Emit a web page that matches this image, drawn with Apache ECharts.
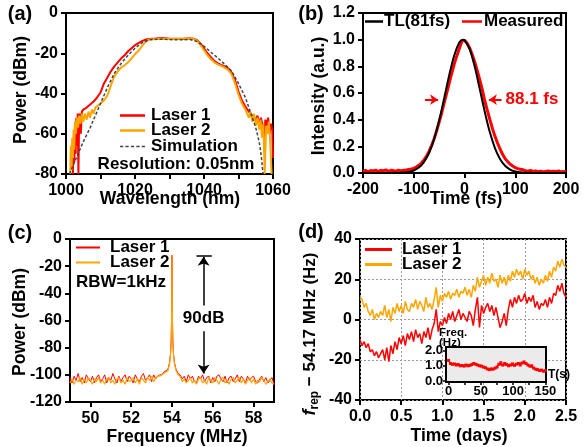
<!DOCTYPE html>
<html>
<head>
<meta charset="utf-8">
<script src="https://cdn.jsdelivr.net/npm/echarts@6/dist/echarts.min.js"></script>
<style>
  html, body { margin: 0; padding: 0; background: #fff; }
  #main { width: 584px; height: 447px; }
</style>
</head>
<body>
<div id="main"></div>
<script>
// (a) optical spectra, [wavelength nm, power dBm]
const laser1Spec = [[1002.0,-80],[1002.2,-62],[1002.4,-74],[1002.6,-56],[1002.8,-70],[1003.0,-52],[1003.2,-66],[1003.4,-50],[1003.6,-80],[1003.8,-54],[1004.0,-50],[1004.3,-60],[1004.6,-49],[1005,-48],[1006,-47],[1007,-45.5],[1008,-44],[1009,-42],[1010,-39.5],[1011,-35],[1012,-32],[1013,-29],[1014,-26.5],[1015,-24.5],[1016,-22.5],[1017,-21],[1018,-19],[1019,-17.5],[1020,-16],[1021,-15],[1022,-14],[1023,-13.3],[1024,-12.9],[1026,-12.7],[1028,-12.4],[1030,-12.8],[1032,-12.8],[1034,-12.9],[1036,-12.6],[1037,-12.8],[1038,-13.5],[1039,-15.2],[1040,-17.5],[1041,-20],[1042,-22],[1043,-23.8],[1044,-25],[1045,-25.8],[1046,-26.5],[1047,-27.5],[1048,-29.5],[1049,-33.5],[1050,-39],[1051,-43.5],[1052,-46.5],[1053,-49],[1054,-51],[1055,-53],[1055.5,-51],[1056,-55],[1056.5,-52],[1057,-56],[1057.4,-62],[1057.8,-53],[1058.2,-56],[1058.6,-52],[1059,-60],[1059.4,-55],[1059.8,-58],[1060,-72]];
const laser2Spec = [[1001.2,-80],[1001.4,-66],[1001.6,-78],[1001.8,-62],[1002.0,-72],[1002.2,-58],[1002.4,-68],[1002.6,-54],[1002.9,-60],[1003.2,-52],[1003.5,-57],[1003.8,-51],[1004.2,-55],[1004.6,-50],[1005,-54],[1005.5,-50],[1006,-53],[1006.5,-49],[1007,-52],[1007.5,-48],[1008,-50],[1008.5,-47],[1009,-47],[1010,-45],[1011,-43.5],[1012,-41],[1013,-36],[1014,-31.5],[1015,-29],[1016,-27],[1017,-26],[1018,-24.5],[1019,-22.5],[1020,-20.5],[1021,-18.8],[1022,-16.5],[1023,-14.5],[1024,-13.2],[1026,-12.9],[1028,-12.8],[1030,-12.9],[1032,-12.9],[1034,-12.7],[1036,-12.5],[1037,-12.9],[1038,-13.8],[1039,-16],[1040,-18.5],[1041,-21],[1042,-23],[1043,-24.5],[1044,-25.5],[1045,-26.3],[1046,-27.2],[1047,-28.3],[1048,-30.5],[1049,-35],[1050,-40.5],[1051,-45],[1052,-48],[1052.5,-50],[1053,-52],[1053.5,-49],[1054,-54],[1054.5,-50],[1055,-56],[1055.5,-52],[1056,-58],[1056.4,-53],[1056.8,-62],[1057.2,-55],[1057.6,-80],[1058,-56],[1058.4,-60],[1058.8,-54],[1059.2,-64],[1059.6,-80]];
const simSpec = [[1001,-80],[1003,-72],[1005,-64],[1007,-57],[1009,-49],[1010,-45],[1012,-37],[1014,-30],[1016,-25],[1018,-21],[1020,-17.5],[1022,-14.8],[1024,-13.3],[1027,-13],[1030,-13.2],[1033,-13.3],[1036,-13.2],[1038,-14.2],[1040,-16.5],[1042,-19.5],[1044,-22.3],[1046,-25.5],[1048,-28.8],[1050,-35],[1052,-42],[1053,-47],[1054,-52],[1055,-57],[1056,-64],[1056.6,-71],[1057.1,-80]];

// (b) autocorrelation, time in fs
const tlTime = [-200,-150,-130,-120,-110,-100,-90,-80,-70,-60,-50,-40,-30,-20,-10,-3,0,10,20,30,40,50,60,70,80,90,100,110,120,130,150,200];
const tlInt = [0,0,0.001,0.003,0.008,0.019,0.041,0.082,0.150,0.253,0.393,0.561,0.735,0.885,0.980,1.0,0.996,0.931,0.800,0.631,0.458,0.305,0.187,0.105,0.054,0.026,0.011,0.005,0.002,0.001,0,0];
const measTime = [-200,-195,-190,-185,-180,-175,-170,-165,-160,-155,-150,-145,-140,-135,-130,-125,-120,-115,-110,-105,-100,-95,-90,-85,-80,-75,-70,-65,-60,-55,-50,-45,-40,-35,-30,-25,-20,-15,-10,-5,0,5,10,15,20,25,30,35,40,45,50,55,60,65,70,75,80,85,90,95,100,105,110,115,120,125,130,135,140,145,150,155,160,165,170,175,180,185,190,195,200];
const measInt = [0.012,0.02,0.008,0.018,0.015,0.022,0.01,0.02,0.016,0.024,0.012,0.02,0.018,0.014,0.022,0.016,0.02,0.022,0.026,0.03,0.035,0.045,0.058,0.075,0.098,0.125,0.16,0.205,0.255,0.315,0.38,0.45,0.525,0.6,0.675,0.75,0.82,0.88,0.935,0.99,0.995,0.975,0.94,0.89,0.835,0.77,0.70,0.625,0.54,0.47,0.40,0.335,0.275,0.225,0.18,0.14,0.108,0.085,0.066,0.052,0.04,0.033,0.028,0.024,0.018,0.014,0.02,0.012,0.016,0.01,0.014,0.008,0.012,0.015,0.009,0.013,0.01,0.016,0.008,0.012,0.01];

// (c) RF spectra, noise floor sampled every 0.1 MHz, plus the peak
const rfLeftStart = 49.0, rfRightStart = 54.4, rfStep = 0.1;
const rf1Left = [-102,-106,-101,-104,-99,-105,-102,-106,-100,-103,-105,-101,-106,-102,-100,-105,-103,-100,-106,-102,-104,-99,-103,-106,-101,-105,-102,-100,-105,-101,-103,-106,-100,-103,-105,-101,-99,-104,-102,-100,-105,-100,-103,-101,-100,-100,-98,-97];
const rf2Left = [-106,-103,-107,-104,-105,-102,-107,-103,-106,-102,-104,-107,-103,-105,-102,-106,-104,-107,-103,-102,-106,-104,-107,-103,-102,-106,-104,-107,-102,-105,-104,-102,-106,-103,-107,-102,-104,-106,-102,-104,-101,-105,-102,-101,-101,-100,-99,-98];
const peakFreq = [53.8,53.88,53.93,53.96,53.98,53.99,54.0,54.01,54.02,54.04,54.07,54.12,54.2,54.3];
const peak1 = [-96,-91,-84,-74,-58,-38,-12,-38,-58,-74,-84,-91,-96,-99];
const peak2 = [-97,-92,-85,-75,-59,-39,-12,-39,-59,-75,-85,-92,-97,-100];
const rf1Right = [-100,-103,-101,-105,-100,-103,-101,-105,-106,-101,-103,-100,-105,-102,-101,-106,-102,-105,-101,-100,-103,-105,-101,-106,-102,-101,-105,-103,-100,-105,-101,-103,-106,-101,-104,-102,-101,-105,-106,-103,-101,-105,-102,-106,-104,-102,-107];
const rf2Right = [-101,-105,-103,-106,-104,-102,-106,-104,-107,-103,-102,-106,-104,-107,-102,-104,-106,-102,-104,-107,-103,-102,-106,-104,-107,-103,-102,-106,-104,-102,-106,-103,-107,-104,-102,-106,-103,-107,-104,-105,-102,-104,-107,-105,-103,-106,-107];

// (d) frep drift, one point every 0.025 day
const dayStep = 0.025;
const drift1 = [-10,-13,-11,-14,-12,-16,-15,-18,-16,-19,-17,-15,-20,-14,-21,-13,-17,-11,-15,-9,-12,-8,-13,-7,-10,-6,-11,-5,-9,-7,-12,-6,-9,-4,-10,-5,-2,5,-6,-1,-3,1,-2,3,0,4,-1,2,5,0,3,1,-1,4,2,-3,5,11,-4,7,3,6,8,4,7,2,6,1,-4,-1,3,-3,5,10,6,11,8,12,9,10,13,8,11,9,12,6,9,5,8,7,10,6,11,8,13,12,17,14,18,13,11];
const drift2 = [11,10,6,8,4,2,5,0,3,1,4,2,7,1,5,-1,6,3,8,4,7,3,9,5,4,8,6,10,5,9,7,4,11,6,8,5,10,16,6,12,9,13,11,14,10,13,12,15,11,14,13,16,12,15,11,17,14,21,16,19,22,17,21,18,23,19,20,16,22,18,21,17,22,19,24,21,25,22,24,20,25,22,24,20,22,18,21,17,20,18,22,19,24,21,26,24,29,26,30,27,26];

// inset, one point every 3 s
const insetStep = 3;
const insetFreq = [1.35,1.15,1.1,1.12,1.05,1.08,1.0,1.02,0.98,1.05,1.0,1.03,1.08,1.15,1.1,1.05,1.0,0.98,0.92,0.88,0.8,0.75,0.8,0.78,0.85,0.92,1.1,1.2,1.05,1.15,1.08,1.0,1.05,1.12,1.03,1.1,1.15,1.05,1.18,1.25,1.15,1.05,0.98,1.0,0.85,0.78,0.75,0.7,0.72,0.65,0.68];

// tick values
const spectrumTicks = [-80, -60, -40, -20, 0];
const rfPowerTicks = [-120, -100, -80, -60, -40, -20, 0];
const rfFreqTicks = [50, 52, 54, 56, 58];
const insetTimeLabels = [0, 50, 100, 150];
const insetTimeTicks = [0, 25, 50, 75, 100, 125, 150];
const insetFreqTicks = [0, 1, 2];

const FONT = 'Liberation Sans';
const RED = '#ff0000', ORANGE = '#ffa500';
const DASH_ICON = 'path://M0,0h3v1.5h-3zM5,0h3v1.5h-3zM10,0h3v1.5h-3zM15,0h3v1.5h-3zM20,0h3v1.5h-3z';

const zip = (xs, ys) => xs.map((x, i) => [x, ys[i]]);
const stepped = (start, step, ys) => ys.map((y, i) => [+(start + i * step).toFixed(3), y]);

const rf1 = stepped(rfLeftStart, rfStep, rf1Left).concat(zip(peakFreq, peak1), stepped(rfRightStart, rfStep, rf1Right));
const rf2 = stepped(rfLeftStart, rfStep, rf2Left).concat(zip(peakFreq, peak2), stepped(rfRightStart, rfStep, rf2Right));

function axis (gridIndex, opts, label, tick) {
  return Object.assign({
    gridIndex: gridIndex,
    type: 'value',
    axisLine: { show: false, onZero: false },
    splitLine: { show: false },
    axisTick: Object.assign({ show: true, length: 5, lineStyle: { color: '#000', width: 2 } }, tick || {}),
    axisLabel: Object.assign({ color: '#000', fontSize: 16, fontWeight: 'bold', fontFamily: FONT, margin: 8, showMinLabel: true, showMaxLabel: true, hideOverlap: false }, label || {})
  }, opts)
}

// the top "0" of (a) and (c) is also given as the axis name, sitting where the end label belongs
const zeroName = {
  name: '0', nameLocation: 'end', nameGap: 0,
  nameTextStyle: { color: '#000', fontSize: 16, fontWeight: 'bold', fontFamily: FONT, align: 'right', verticalAlign: 'middle', padding: [0, 8, 0, 0] }
};

const frame = { show: true, borderColor: '#000', borderWidth: 2, backgroundColor: 'transparent' };
const dotted = { show: true, lineStyle: { color: '#999', type: [2, 2], width: 1 } };
const fix1 = v => v.toFixed(1);
const asText = v => String(Math.round(v));

function legendRow (name, left, top, width, thick, gap, icon) {
  return {
    data: [name], left: left, top: top, padding: 0, orient: 'horizontal',
    icon: icon || 'rect', symbolKeepAspect: false,
    itemWidth: width, itemHeight: thick, selectedMode: false,
    textStyle: { fontSize: 17, fontWeight: 'bold', fontFamily: FONT, color: '#000', padding: [0, 0, 0, gap || 0] }
  }
}

function title (text, x, y, rot, size) {
  return {
    type: 'text', x: x, y: y, rotation: rot ? Math.PI / 2 : 0,
    style: { text: text, fill: '#000', font: 'bold ' + (size || 17.5) + 'px "Liberation Sans"', align: 'center', verticalAlign: 'middle' }
  }
}

const chart = echarts.init(document.getElementById('main'));
chart.setOption({
  animation: false,
  backgroundColor: '#fff',
  textStyle: { fontFamily: FONT, fontWeight: 'bold', color: '#000' },
  grid: [
    Object.assign({ left: 66, top: 13, width: 207, height: 161 }, frame),
    Object.assign({ left: 363, top: 13, width: 203, height: 160 }, frame),
    Object.assign({ left: 70, top: 239, width: 204, height: 163 }, frame),
    Object.assign({ left: 360, top: 239, width: 206, height: 161 }, frame),
    { left: 446, top: 347, width: 100, height: 35, show: true, borderColor: '#000', borderWidth: 2, backgroundColor: '#ebebeb', z: 5 }
  ],
  xAxis: [
    axis(0, { min: 1000, max: 1060, interval: 10 }, { margin: 9, formatter: v => (v % 20 === 0 ? v : '') }),
    axis(1, { min: -200, max: 200, interval: 100 }, { margin: 9 }),
    axis(2, { min: 49, max: 59 }, { margin: 9, customValues: rfFreqTicks }, { customValues: rfFreqTicks }),
    axis(3, { min: 0, max: 2.5, interval: 0.5, splitLine: dotted }, { margin: 9, formatter: fix1 }),
    axis(4, { min: -4, max: 151, z: 6 }, { fontSize: 13, margin: 3, customValues: insetTimeLabels },
      { length: 3, lineStyle: { color: '#000', width: 1.5 }, customValues: insetTimeTicks })
  ],
  yAxis: [
    axis(0, Object.assign({ min: -80, max: 0 }, zeroName), { customValues: spectrumTicks.slice(0, -1), formatter: asText }, { customValues: spectrumTicks }),
    axis(1, { min: 0, max: 1.2, interval: 0.2 }, { formatter: fix1 }),
    axis(2, Object.assign({ min: -120, max: 0 }, zeroName), { customValues: rfPowerTicks.slice(0, -1), formatter: asText }, { customValues: rfPowerTicks }),
    axis(3, { min: -40, max: 40, interval: 20, splitLine: dotted }),
    axis(4, { min: -0.05, max: 2.22, z: 6 }, { fontSize: 13, margin: 3, formatter: fix1, customValues: insetFreqTicks },
      { length: 3, lineStyle: { color: '#000', width: 1.5 }, customValues: insetFreqTicks })
  ],
  legend: [
    legendRow('Laser 1', 120, 107, 25, 2.5, 1),
    legendRow('Laser 2', 120, 122, 25, 2.5, 1),
    legendRow('Simulation', 120, 138, 25, 1.5, 1, DASH_ICON),
    legendRow('TL(81fs)', 365, 13, 18, 2.5, -4),
    legendRow('Measured', 462, 13, 20, 2.5, -3),
    legendRow('Laser 1', 76, 239, 24, 2, 5),
    legendRow('Laser 2', 76, 254, 24, 2, 5),
    legendRow('Laser 1', 365, 241, 27, 3, 5),
    legendRow('Laser 2', 365, 256, 27, 3, 5)
  ],
  series: [
    { name: 'Laser 1', type: 'line', xAxisIndex: 0, yAxisIndex: 0, data: laser1Spec, symbol: 'none', color: RED, lineStyle: { width: 2 } },
    { name: 'Laser 2', type: 'line', xAxisIndex: 0, yAxisIndex: 0, data: laser2Spec, symbol: 'none', color: ORANGE, lineStyle: { width: 2 } },
    { name: 'Simulation', type: 'line', xAxisIndex: 0, yAxisIndex: 0, data: simSpec, symbol: 'none', color: '#444', lineStyle: { width: 1.5, type: [3, 2] } },
    {
      name: 'Measured', type: 'line', xAxisIndex: 1, yAxisIndex: 1, data: zip(measTime, measInt), symbol: 'none', color: RED, lineStyle: { width: 3 },
      markLine: {
        silent: true, symbol: ['none', 'arrow'], symbolSize: 8, label: { show: false },
        lineStyle: { color: RED, width: 2, type: 'solid' },
        data: [
          [{ coord: [-78, 0.55] }, { coord: [-52, 0.55] }],
          [{ coord: [73, 0.55] }, { coord: [48, 0.55] }]
        ]
      },
      markPoint: {
        silent: true, symbolSize: 0,
        data: [{ coord: [73, 0.55] }],
        label: { show: true, position: 'right', distance: 4, formatter: '88.1 fs', color: RED, fontSize: 17, fontWeight: 'bold', fontFamily: FONT }
      }
    },
    { name: 'TL(81fs)', type: 'line', xAxisIndex: 1, yAxisIndex: 1, data: zip(tlTime, tlInt), symbol: 'none', smooth: 0.3, color: '#000', lineStyle: { width: 2 } },
    { name: 'Laser 1', type: 'line', xAxisIndex: 2, yAxisIndex: 2, data: rf1, symbol: 'none', color: RED, lineStyle: { width: 1 } },
    {
      name: 'Laser 2', type: 'line', xAxisIndex: 2, yAxisIndex: 2, data: rf2, symbol: 'none', color: ORANGE, lineStyle: { width: 1.2 },
      markLine: {
        silent: true, symbolSize: 9, label: { show: false },
        lineStyle: { color: '#000', width: 1.5, type: 'solid' },
        data: [
          [{ coord: [55.2, -12.5], symbol: 'none' }, { coord: [55.95, -12.5], symbol: 'none' }],
          [{ coord: [55.55, -13], symbol: 'arrow' }, { coord: [55.55, -49], symbol: 'none' }],
          [{ coord: [55.55, -68], symbol: 'none' }, { coord: [55.55, -99], symbol: 'arrow' }]
        ]
      },
      markPoint: {
        silent: true, symbolSize: 0,
        data: [{ coord: [55.55, -58.5] }],
        label: { show: true, position: 'inside', formatter: '90dB', color: '#000', fontSize: 17, fontWeight: 'bold', fontFamily: FONT }
      }
    },
    { name: 'Laser 1', type: 'line', xAxisIndex: 3, yAxisIndex: 3, data: stepped(0, dayStep, drift1), symbol: 'none', color: RED, lineStyle: { width: 1.5 } },
    { name: 'Laser 2', type: 'line', xAxisIndex: 3, yAxisIndex: 3, data: stepped(0, dayStep, drift2), symbol: 'none', color: ORANGE, lineStyle: { width: 1.5 } },
    { name: 'inset', type: 'line', xAxisIndex: 4, yAxisIndex: 4, z: 7, data: stepped(0, insetStep, insetFreq), symbol: 'rect', symbolSize: 3, color: RED, lineStyle: { width: 1.5 } }
  ],
  graphic: {
    elements: [
      title('(a)', 20, 14, false, 20),
      title('(b)', 311, 14, false, 20),
      title('(c)', 20, 233, false, 20),
      title('(d)', 311, 232, false, 20),
      title('Power (dBm)', 21, 90, true),
      title('Wavelength (nm)', 170, 199),
      title('Intensity (a.u.)', 319, 96, true),
      title('Time (fs)', 466, 199),
      title('Power (dBm)', 20, 322, true),
      title('Frequency (MHz)', 177, 437),
      title('Time (days)', 459, 436),
      {
        type: 'text', x: 310, y: 334, rotation: Math.PI / 2,
        style: {
          text: '{f|f}{s|rep}{n| \u2212 54.17 MHz (Hz)}', align: 'center', verticalAlign: 'middle', fill: '#000',
          rich: {
            f: { fontSize: 18, fontStyle: 'italic', fontWeight: 'bold', fontFamily: FONT, lineHeight: 22 },
            s: { fontSize: 12, fontWeight: 'bold', fontFamily: FONT, verticalAlign: 'bottom', lineHeight: 22, padding: [8, 0, 0, 0] },
            n: { fontSize: 17, fontWeight: 'bold', fontFamily: FONT, lineHeight: 22 }
          }
        }
      },
      title('RBW=1kHz', 121, 282, false, 17),
      title('Resolution: 0.05nm', 176, 164, false, 17),
      { type: 'text', x: 439, y: 328, z: 20, style: { text: 'Freq.\n(Hz)', fill: '#000', font: 'bold 11.5px "Liberation Sans"', lineHeight: 10 } },
      { type: 'text', x: 548, y: 369, z: 20, style: { text: 'T(s)', fill: '#000', font: 'bold 12px "Liberation Sans"' } }
    ]
  }
});
</script>
</body>
</html>
